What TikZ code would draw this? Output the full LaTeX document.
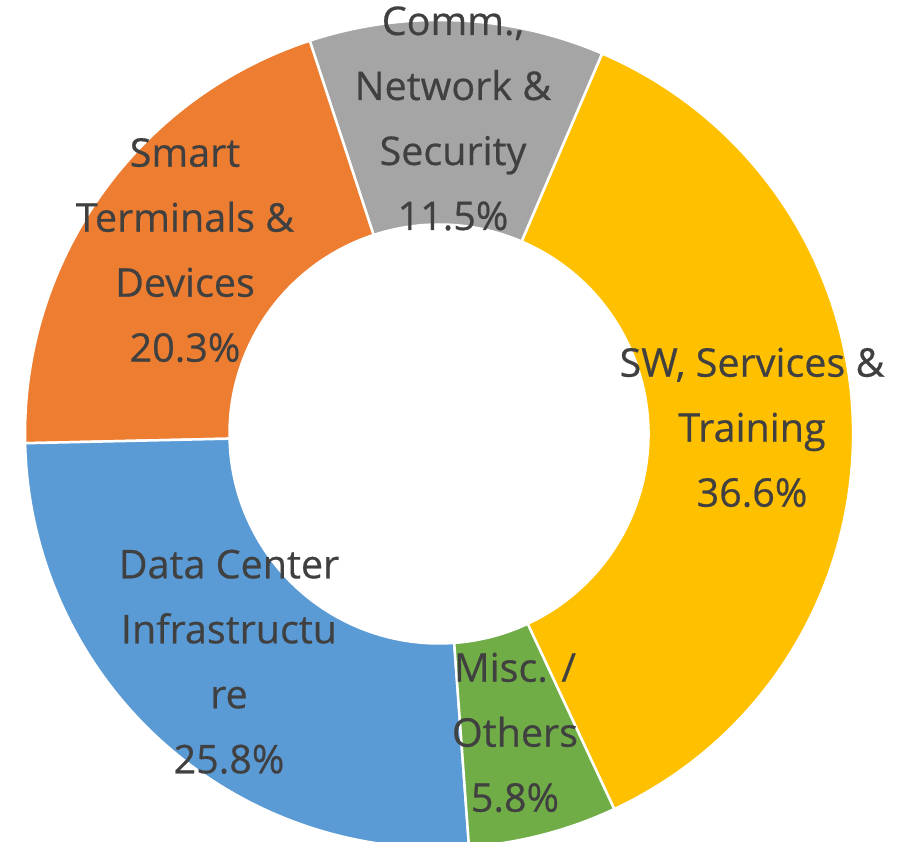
\documentclass[tikz,border=0pt]{standalone}
\usepackage{fontspec}
\setmainfont{Open Sans}
\newfontfamily\lblfont{Open Sans}[FakeBold=0.5]
\definecolor{cyellow}{HTML}{FFC000}
\definecolor{corange}{HTML}{ED7D31}
\definecolor{cgray}{HTML}{A5A5A5}
\definecolor{cblue}{HTML}{5B9BD5}
\definecolor{cgreen}{HTML}{70AD47}
\definecolor{txtgray}{HTML}{404040}
\begin{document}
\begin{tikzpicture}[x=1pt,y=1pt,
  lbl/.style={text=txtgray, font=\lblfont\fontsize{39.5}{65}\selectfont, align=center, anchor=base, inner sep=0pt},
  wedge/.style={draw=white, line width=2.5pt, line join=round}]
\useasboundingbox (0,0) rectangle (908,842);
\clip (0,0) rectangle (908,842);
\coordinate (c) at (439,408);
% SW, Services & Training
\path[wedge, fill=cyellow] ([shift={(-64.96:414)}]c) arc[start angle=-64.96, end angle=66.8, radius=414]
  -- ([shift={(66.8:209.5)}]c) arc[start angle=66.8, end angle=-64.96, radius=209.5] -- cycle;
% Comm., Network & Security
\path[wedge, fill=cgray] ([shift={(66.8:414)}]c) arc[start angle=66.8, end angle=108.2, radius=414]
  -- ([shift={(108.2:209.5)}]c) arc[start angle=108.2, end angle=66.8, radius=209.5] -- cycle;
% Smart Terminals & Devices
\path[wedge, fill=corange] ([shift={(108.2:414)}]c) arc[start angle=108.2, end angle=181.28, radius=414]
  -- ([shift={(181.28:209.5)}]c) arc[start angle=181.28, end angle=108.2, radius=209.5] -- cycle;
% Data Center Infrastructure
\path[wedge, fill=cblue] ([shift={(181.28:414)}]c) arc[start angle=181.28, end angle=274.16, radius=414]
  -- ([shift={(274.16:209.5)}]c) arc[start angle=274.16, end angle=181.28, radius=209.5] -- cycle;
% Misc. / Others
\path[wedge, fill=cgreen] ([shift={(274.16:414)}]c) arc[start angle=274.16, end angle=295.04, radius=414]
  -- ([shift={(295.04:209.5)}]c) arc[start angle=295.04, end angle=274.16, radius=209.5] -- cycle;

\node[lbl] (lsw) at (752,335.3) {SW, Services \&\\Training\\36.6\%};
\node[lbl] (lcomm) at (453,612) {Comm.,\\Network \&\\Security\\11.5\%};
\node[lbl] (lsmart) at (185,480.3) {Smart\\Terminals \&\\Devices\\20.3\%};
\node[lbl] (ldata) at (229,68.7) {Data Center\\Infrastructu\\re\\25.8\%};
\node[lbl] (lmisc) at (515,30.3) {Misc. /\\Others\\5.8\%};
\end{tikzpicture}
\end{document}
